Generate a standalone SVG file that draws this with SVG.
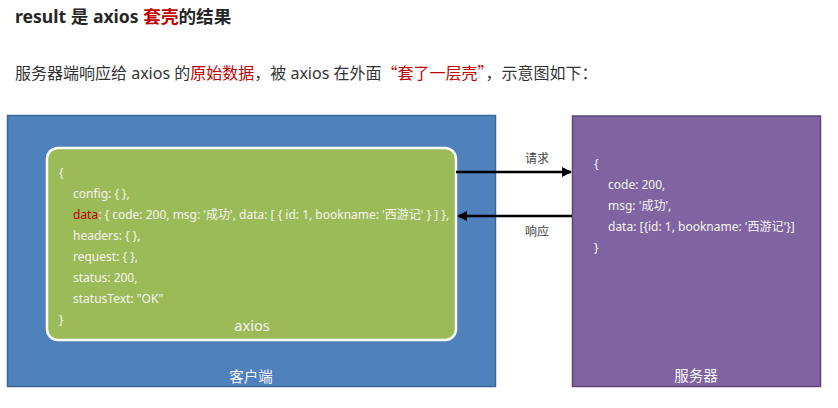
<svg xmlns="http://www.w3.org/2000/svg" width="838" height="408" viewBox="0 0 838 408">
<style>
text{font-family:"Noto Sans","Noto Sans CJK SC",sans-serif}
.title{font-size:17.6px;font-weight:bold;fill:#262626}
.sub{font-size:16px;fill:#333}
.red{fill:#c00000}
.cjk{font-family:"Noto Sans CJK SC",sans-serif}
.code{font-size:12px;fill:#f4f4ee}
.lbl{font-size:14.5px;fill:#f4f4f4}
.arrlbl{font-size:12px;fill:#444}
.conn{stroke:#000;stroke-width:2.5;fill:none}
</style>
<defs>
<marker id="ah" viewBox="0 0 10 10" refX="9" refY="5" markerWidth="4" markerHeight="4" orient="auto-start-reverse" markerUnits="strokeWidth">
<path d="M0,0 L10,5 L0,10 z" fill="#000"/>
</marker>
</defs>
<rect width="838" height="408" fill="#fff"/>
<g id="heading">
<text class="title" x="15" y="23">result 是 axios <tspan class="red">套壳</tspan>的结果</text>
<text class="sub" x="15" y="79">服务器端响应给 axios 的<tspan class="red">原始数据</tspan>，被 axios 在外面<tspan class="red cjk">“套了一层壳”</tspan>，示意图如下：</text>
</g>
<g id="client">
<rect x="7.5" y="115.5" width="488" height="271" fill="#4f81bd" stroke="#3e6797" stroke-width="1.5"/>
<text class="lbl" x="251" y="382" text-anchor="middle">客户端</text>
</g>
<g id="axios">
<rect x="47" y="148" width="409" height="192" rx="11" fill="#9bbb59" stroke="#fff" stroke-width="2.5"/>
<text class="code" x="59" y="177">{</text>
<text class="code" x="73" y="198">config: { },</text>
<text class="code" x="73" y="219"><tspan class="red">data</tspan>:  { code: 200, msg: '成功', data: [ { id: 1, bookname: '西游记' } ] },</text>
<text class="code" x="73" y="240">headers: { },</text>
<text class="code" x="73" y="261">request: { },</text>
<text class="code" x="73" y="282">status: 200,</text>
<text class="code" x="73" y="303">statusText: "OK"</text>
<text class="code" x="59" y="324">}</text>
<text class="lbl" x="252" y="331" text-anchor="middle">axios</text>
</g>
<g id="server">
<rect x="572.5" y="116" width="248" height="270.5" fill="#8064a2" stroke="#5c4776" stroke-width="1.5"/>
<text class="code" x="594" y="168">{</text>
<text class="code" x="608" y="189">code: 200,</text>
<text class="code" x="608" y="210">msg: '成功',</text>
<text class="code" x="608" y="231">data: [{id: 1, bookname: '西游记'}]</text>
<text class="code" x="594" y="252">}</text>
<text class="lbl" x="696" y="381" text-anchor="middle">服务器</text>
</g>
<g id="connectors">
<line class="conn" x1="456" y1="172" x2="571" y2="172" marker-end="url(#ah)"/>
<text class="arrlbl" x="537" y="163" text-anchor="middle">请求</text>
<line class="conn" x1="572" y1="216" x2="458" y2="216" marker-end="url(#ah)"/>
<text class="arrlbl" x="537" y="236" text-anchor="middle">响应</text>
</g>
</svg>
